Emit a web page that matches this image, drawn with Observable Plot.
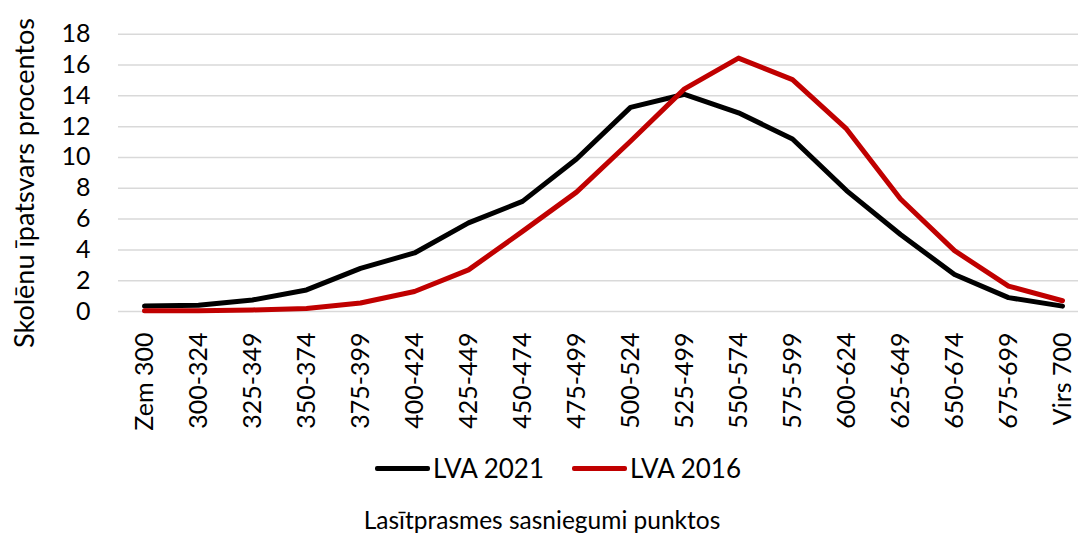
<!DOCTYPE html>
<html>
<head>
<meta charset="utf-8">
<script src="https://cdn.jsdelivr.net/npm/d3@7"></script>
<script src="https://cdn.jsdelivr.net/npm/@observablehq/plot@0.6"></script>
<style>
  html, body { margin: 0; padding: 0; background: #fff; }
  #wrap { position: relative; width: 1078px; height: 539px; font-family: Lato, "Open Sans", sans-serif; color: #000; overflow: hidden; }
  #chart { position: absolute; left: 0; top: 0; }
  #ylabel { position: absolute; left: 23px; top: 183px; transform: translate(-50%, -50%) rotate(-90deg); white-space: nowrap; font-size: 27px; }
  #legend { position: absolute; left: 0; width: 1078px; top: 452px; height: 32px; display: flex; justify-content: center; align-items: center; font-size: 26px; padding-left: 38px; box-sizing: border-box; }
  .item { display: flex; align-items: center; margin: 0 14px; }
  .sw { width: 55px; height: 5px; margin-right: 3px; border-radius: 2px; }
  #xtitle { position: absolute; left: 0; width: 1078px; top: 505px; text-align: center; font-size: 24.5px; padding-left: 6px; box-sizing: border-box; }
</style>
</head>
<body>
<div id="wrap">
  <div id="chart"></div>
  <div id="ylabel"></div>
  <div id="legend"></div>
  <div id="xtitle"></div>
</div>
<script>
const categories = ["Zem 300","300-324","325-349","350-374","375-399","400-424","425-449","450-474","475-499","500-524","525-499","550-574","575-599","600-624","625-649","650-674","675-699","Virs 700"];
const lva2021 = [0.35, 0.4, 0.75, 1.4, 2.8, 3.8, 5.75, 7.15, 9.9, 13.25, 14.1, 12.9, 11.2, 7.85, 5.0, 2.4, 0.9, 0.35];
const lva2016 = [0.05, 0.05, 0.1, 0.2, 0.55, 1.3, 2.7, 5.2, 7.75, 11.05, 14.45, 16.45, 15.05, 11.85, 7.3, 3.95, 1.65, 0.7];
const seriesNames = ["LVA 2021", "LVA 2016"];
const seriesColors = ["#000000", "#c00000"];
const yTicks = [0, 2, 4, 6, 8, 10, 12, 14, 16, 18];
const yTitle = "Skolēnu īpatsvars procentos";
const xTitle = "Lasītprasmes sasniegumi punktos";

const rows = [];
[lva2021, lva2016].forEach((vals, s) => {
  vals.forEach((v, i) => rows.push({series: seriesNames[s], cat: categories[i], value: v}));
});

const chart = Plot.plot({
  width: 1078,
  height: 440,
  marginLeft: 118,
  marginRight: 0,
  marginTop: 33.7,
  marginBottom: 129,
  style: {fontFamily: "Lato, 'Open Sans', sans-serif", fontSize: "25px", color: "#000", background: "transparent"},
  x: {type: "point", domain: categories, range: [143, 1063], padding: 0},
  y: {domain: [0, 18]},
  color: {domain: seriesNames, range: seriesColors},
  marks: [
    Plot.ruleY(yTicks, {stroke: "#d9d9d9", strokeWidth: 1.5}),
    Plot.axisY(yTicks, {tickSize: 0, tickPadding: 28, label: null}),
    Plot.axisX({tickSize: 0, tickPadding: 21, tickRotate: -90, label: null}),
    Plot.line(rows, {x: "cat", y: "value", z: "series", stroke: "series", strokeWidth: 5, strokeLinejoin: "round", strokeLinecap: "round"})
  ]
});
document.getElementById("chart").appendChild(chart);
document.getElementById("ylabel").textContent = yTitle;
document.getElementById("xtitle").textContent = xTitle;
const legend = document.getElementById("legend");
seriesNames.forEach((n, i) => {
  const it = document.createElement("div");
  it.className = "item";
  const sw = document.createElement("span");
  sw.className = "sw";
  sw.style.background = seriesColors[i];
  const t = document.createElement("span");
  t.textContent = n;
  it.appendChild(sw); it.appendChild(t);
  legend.appendChild(it);
});
</script>
</body>
</html>
